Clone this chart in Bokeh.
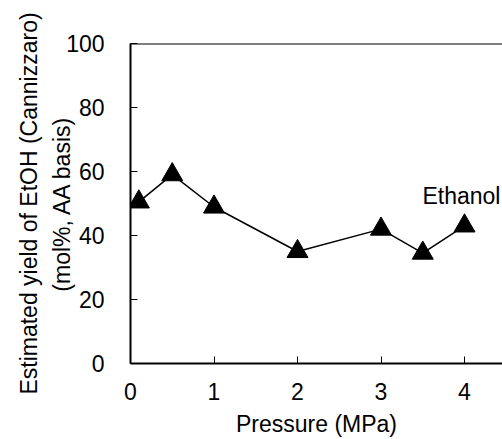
import math
from bokeh.plotting import figure
from bokeh.models import LinearAxis, Span, Label, Range1d, FixedTicker
from bokeh.embed import file_html
from bokeh.resources import INLINE

pressure = [0.1, 0.5, 1.0, 2.0, 3.0, 3.5, 4.0]
etoh_yield = [50.5, 59.0, 48.9, 35.0, 42.0, 34.5, 43.0]
x_ticks = [0, 1, 2, 3, 4]
y_ticks = [0, 20, 40, 60, 80, 100]
series_name = "Ethanol"
x_label = "Pressure (MPa)"
y_label_1 = "Estimated yield of EtOH (Cannizzaro)"
y_label_2 = "(mol%, AA basis)"

FONT = "Liberation Sans"
FS = "23px"

p = figure(width=502, height=439, output_backend="svg", toolbar_location=None,
           x_range=Range1d(0, 4.455), y_range=Range1d(0, 100),
           min_border_left=130, min_border_top=43, min_border_bottom=75, min_border_right=0)
p.outline_line_color = None
p.grid.visible = False
p.background_fill_color = "white"
p.border_fill_color = "white"

# x axis
xa = p.xaxis[0]
xa.ticker = FixedTicker(ticks=x_ticks)
xa.minor_tick_line_color = None
xa.major_tick_in = 7
xa.major_tick_out = 0
xa.axis_line_width = 2
xa.major_tick_line_width = 1
xa.major_label_standoff = 19
xa.major_label_text_font = FONT
xa.major_label_text_font_size = FS
xa.major_label_text_color = "black"
xa.major_label_text_line_height = 1.0
xa.axis_label = x_label
xa.axis_label_text_font = FONT
xa.axis_label_text_font_size = FS
xa.axis_label_text_font_style = "normal"
xa.axis_label_text_color = "black"
xa.axis_label_text_line_height = 1.0
xa.axis_label_standoff = 8

# y axis
ya = p.yaxis[0]
ya.ticker = FixedTicker(ticks=y_ticks)
ya.minor_tick_line_color = None
ya.major_tick_in = 7
ya.major_tick_out = 0
ya.axis_line_width = 2
ya.major_tick_line_width = 1
ya.major_label_standoff = 26
ya.major_label_text_font = FONT
ya.major_label_text_font_size = FS
ya.major_label_text_color = "black"
ya.axis_label = y_label_2
ya.axis_label_text_font = FONT
ya.axis_label_text_font_size = FS
ya.axis_label_text_font_style = "normal"
ya.axis_label_text_color = "black"
ya.axis_label_standoff = -12

# second left axis carrying the first label line only
ya2 = LinearAxis(ticker=FixedTicker(ticks=[]), axis_line_color=None,
                 major_tick_in=0, major_tick_out=0, minor_tick_line_color=None,
                 major_label_text_font_size="0px",
                 axis_label=y_label_1, axis_label_text_font=FONT,
                 axis_label_text_font_size=FS, axis_label_text_font_style="normal",
                 axis_label_text_color="black",
                 axis_label_standoff=5)
p.add_layout(ya2, "left")

# top border
p.add_layout(Span(location=100, dimension="width", line_color="black", line_width=2))

p.line(pressure, etoh_yield, line_color="black", line_width=1.5)
p.scatter(pressure, etoh_yield, marker="triangle", size=21,
          fill_color="black", line_color="black")

p.add_layout(Label(x=4.43, y=52.5, text=series_name, text_align="right",
                   text_baseline="alphabetic", text_font=FONT, text_font_size=FS,
                   text_color="black"))

open("out.html", "w").write(file_html(p, INLINE))
